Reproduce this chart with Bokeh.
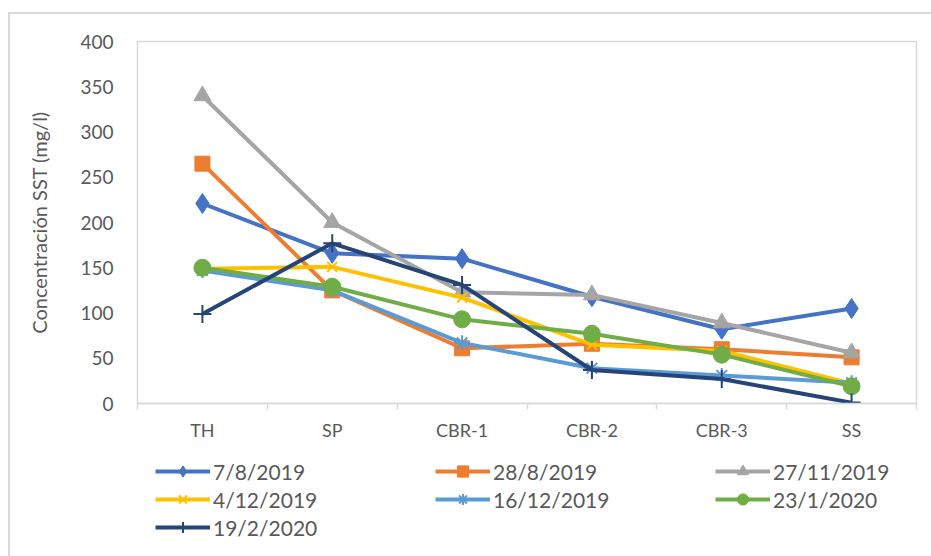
from bokeh.plotting import figure
from bokeh.layouts import column
from bokeh.models import (Range1d, FixedTicker, Legend, LegendItem, ColumnDataSource)
from bokeh.embed import file_html
from bokeh.resources import INLINE

categories = ["TH", "SP", "CBR-1", "CBR-2", "CBR-3", "SS"]
series_names = ["7/8/2019", "28/8/2019", "27/11/2019", "4/12/2019", "16/12/2019", "23/1/2020", "19/2/2020"]
v_7_8_2019 = [221, 166, 160, 118, 82, 105]
v_28_8_2019 = [265, 125, 61, 66, 60, 51]
v_27_11_2019 = [340, 200, 123, 120, 89, 56]
v_4_12_2019 = [149, 151, 117, 65, 58, 22]
v_16_12_2019 = [147, 125, 67, 39, 31, 23]
v_23_1_2020 = [150, 129, 93, 77, 54, 19]
v_19_2_2020 = [99, 177, 131, 37, 27, 1]
y_ticks = [0, 50, 100, 150, 200, 250, 300, 350, 400]

all_values = [v_7_8_2019, v_28_8_2019, v_27_11_2019, v_4_12_2019, v_16_12_2019, v_23_1_2020, v_19_2_2020]
colors = ["#4472C4", "#ED7D31", "#A5A5A5", "#FFC000", "#5B9BD5", "#70AD47", "#264478"]
markers = ["diamond", "square", "triangle", "x", "asterisk", "circle", "cross"]
msizes = [20, 15, 17, 14, 15, 17, 18]

FONT = "Lato"
TXT = "#595959"
GRID = "#d9d9d9"

# category slot positions (centre of each category band) and band edges
n = len(categories)
centers = [i + 0.5 for i in range(n)]
edges = list(range(n + 1))

p = figure(frame_width=779, frame_height=362, x_range=Range1d(0, n), y_range=Range1d(0, 400),
           output_backend="svg", toolbar_location=None,
           min_border_left=127, min_border_right=15, min_border_top=27, min_border_bottom=49)
p.xgrid.grid_line_color = None
p.ygrid.grid_line_color = None
p.outline_line_color = GRID
p.outline_line_width = 1.5

# y axis
ya = p.yaxis[0]
ya.ticker = FixedTicker(ticks=y_ticks)
ya.axis_line_color = None
ya.major_tick_line_color = None
ya.minor_tick_line_color = None
ya.major_tick_out = 0
ya.major_tick_in = 0
ya.minor_tick_out = 0
ya.major_label_text_font = FONT
ya.major_label_text_font_size = "19px"
ya.major_label_text_color = TXT
ya.major_label_standoff = 24
ya.axis_label = "Concentración SST (mg/l)"
ya.axis_label_text_font = FONT
ya.axis_label_text_font_size = "20px"
ya.axis_label_text_font_style = "normal"
ya.axis_label_text_color = TXT
ya.axis_label_standoff = 26

# x axis: category labels at band centres, tick marks at band edges
xa = p.xaxis[0]
xa.ticker = FixedTicker(ticks=centers, minor_ticks=edges)
xa.major_label_overrides = {c: lab for c, lab in zip(centers, categories)}
xa.axis_line_color = GRID
xa.axis_line_width = 1.5
xa.major_tick_line_color = None
xa.major_tick_in = 0
xa.major_tick_out = 6
xa.minor_tick_line_color = GRID
xa.minor_tick_line_width = 1.5
xa.minor_tick_in = 0
xa.minor_tick_out = 6
xa.major_label_text_font = FONT
xa.major_label_text_font_size = "18px"
xa.major_label_text_color = TXT
xa.major_label_standoff = 9

for name, vals, c, m, s in zip(series_names, all_values, colors, markers, msizes):
    src = ColumnDataSource(dict(x=centers, y=vals, cat=categories))
    p.line("x", "y", source=src, line_color=c, line_width=4)
    if m in ("x", "asterisk", "cross"):
        p.scatter("x", "y", source=src, marker=m, size=s, line_color=c, line_width=2)
    else:
        p.scatter("x", "y", source=src, marker=m, size=s, fill_color=c, line_color=c)

# legend strip below the chart (same frame alignment); its renderers hold no visible data
lg = figure(frame_width=779, frame_height=104, x_range=Range1d(0, 1), y_range=Range1d(0, 1),
            output_backend="svg", toolbar_location=None, x_axis_location=None, y_axis_location=None,
            min_border_left=127, min_border_right=15, min_border_top=0, min_border_bottom=0)
lg.xgrid.grid_line_color = None
lg.ygrid.grid_line_color = None
lg.outline_line_color = None

nan = float("nan")
items = []
for name, c, m, s in zip(series_names, colors, markers, msizes):
    r1 = lg.line(x=[nan], y=[nan], line_color=c, line_width=4)
    if m in ("x", "asterisk", "cross"):
        r2 = lg.scatter(x=[nan], y=[nan], marker=m, size=s, line_color=c, line_width=2)
    else:
        r2 = lg.scatter(x=[nan], y=[nan], marker=m, size=s, fill_color=c, line_color=c)
    items.append(LegendItem(label=name, renderers=[r1, r2]))

legend = Legend(items=items, orientation="horizontal", ncols=3, location=(18, 15),
                border_line_color=None, background_fill_alpha=0,
                label_text_font=FONT, label_text_font_size="21px", label_text_color=TXT,
                glyph_width=55, glyph_height=28, label_height=28, label_width=222,
                label_standoff=3, spacing=0, padding=0, margin=0)
lg.add_layout(legend, "center")

layout = column(p, lg, spacing=0,
                styles={"border-top": "2px solid #d9d9d9", "border-left": "2px solid #d9d9d9",
                        "margin-left": "8px", "margin-top": "12px"})

open("out.html", "w").write(file_html(layout, INLINE))
